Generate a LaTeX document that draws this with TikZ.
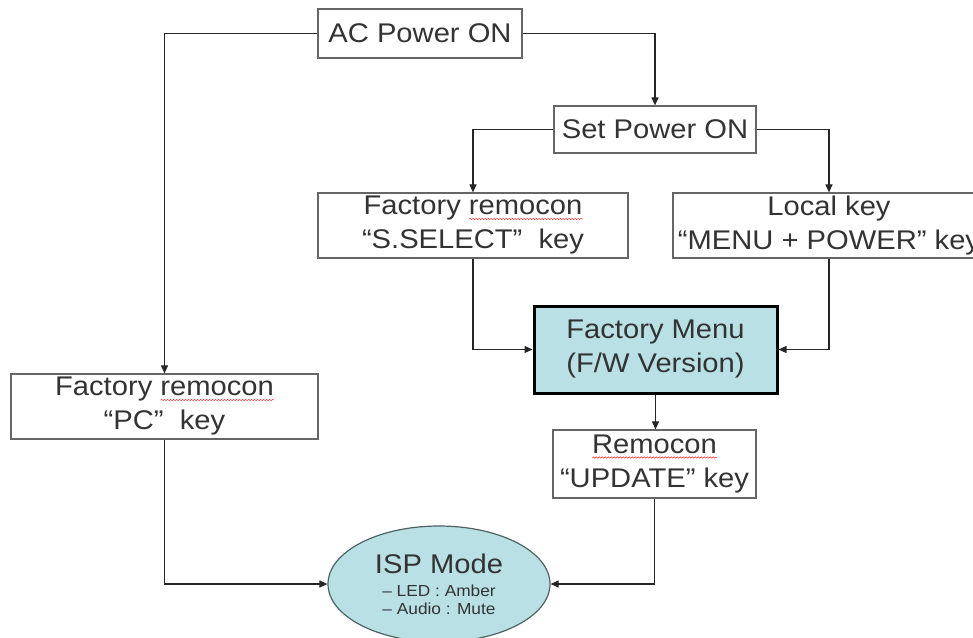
\documentclass[tikz,border=0pt]{standalone}
\usepackage{fontspec}
\setmainfont{Liberation Sans}[FakeStretch=1.08]
\usetikzlibrary{shapes.geometric,arrows.meta,decorations.pathmorphing}
\definecolor{txt}{HTML}{333333}
\definecolor{boxline}{HTML}{666666}
\definecolor{cyanfill}{HTML}{B9E0E4}
\definecolor{ellline}{HTML}{4F6264}
\newsavebox\sperrbox
\newcommand\sperr[1]{\sbox\sperrbox{#1}\leavevmode\rlap{\raisebox{-4pt}{\tikz[baseline=0pt]\draw[red!85, line width=0.5pt, decorate, decoration={snake, amplitude=0.7pt, segment length=3pt}] (0pt,0pt) -- (\wd\sperrbox,0pt);}}\usebox\sperrbox}
\tikzset{
  box/.style={draw=boxline, line width=1.2pt, fill=white, text=txt, align=center,
    inner sep=0pt, font=\fontsize{27}{34}\selectfont},
  fmbox/.style={box, draw=black, line width=3pt, fill=cyanfill},
  ispnode/.style={ellipse, draw=ellline, line width=1.2pt, fill=cyanfill, text=txt,
    align=center, inner sep=0pt, font=\fontsize{16}{18}\selectfont},
  conn/.style={draw=black!85, line width=1.1pt, -{Triangle[length=8pt,width=7pt]}},
}
\begin{document}
\begin{tikzpicture}[x=1pt,y=-1pt]
\useasboundingbox (0,0) rectangle (973,637);
\clip (0,0) rectangle (973,637);
\node[box, minimum width=204, minimum height=49] (ac) at (420,33.5) {AC Power ON};
\node[box, minimum width=202, minimum height=47] (sp) at (655,129.5) {Set Power ON};
\node[box, minimum width=310, minimum height=65] (ss) at (473,225.5) {Factory \sperr{remocon}\\“S.SELECT”\ \ key};
\node[box, minimum width=312, minimum height=65] (lk) at (829,225.5) {Local key\\“MENU + POWER" key};
\node[fmbox, minimum width=243, minimum height=87] (fm) at (655.5,349.5) {Factory Menu\\(F/W Version)};
\node[box, minimum width=203, minimum height=68] (rc) at (654.5,464) {\sperr{Remocon}\\“UPDATE” key};
\node[box, minimum width=307, minimum height=65] (pc) at (164.5,406.5) {Factory \sperr{remocon}\\“PC”\ \ key};
\node[ispnode, minimum width=222, minimum height=116] (isp) at (439,584)
  {{\fontsize{27}{30}\selectfont ISP Mode}\\[5pt]– LED : Amber\\– Audio : Mute};
\draw[conn] (ac.west) -| (pc.north);
\draw[conn] (ac.east) -| (sp.north);
\draw[conn] (sp.west) -| (ss.north);
\draw[conn] (sp.east) -| (lk.north);
\draw[conn] (ss.south) |- (fm.west);
\draw[conn] (lk.south) |- (fm.east);
\draw[conn] (fm.south) -- (fm.south |- rc.north);
\draw[conn] (pc.south) |- (isp.west);
\draw[conn] (rc.south) |- (isp.east);
\end{tikzpicture}
\end{document}
